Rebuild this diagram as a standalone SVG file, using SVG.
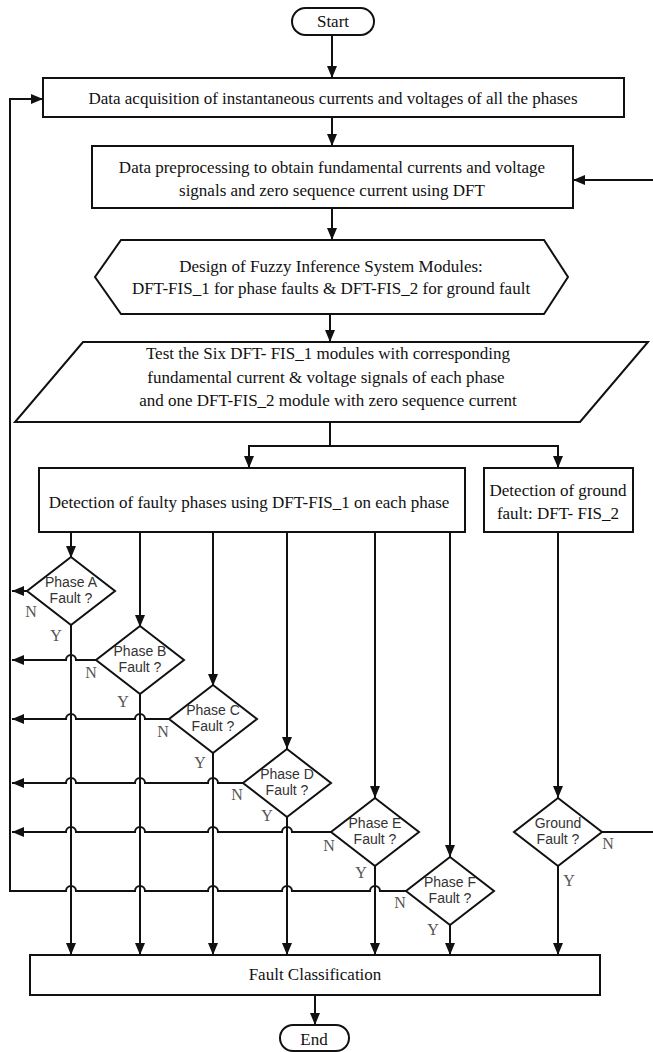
<svg xmlns="http://www.w3.org/2000/svg" width="653" height="1052" viewBox="0 0 653 1052">
<defs>
<style>
.box{fill:#fff;stroke:#111;stroke-width:2}
.c{fill:none;stroke:#111;stroke-width:2}
.t{font-family:"Liberation Serif","Times New Roman",serif;font-size:17px;fill:#111;text-anchor:middle}
.d{font-family:"Liberation Sans",Arial,sans-serif;font-size:14px;fill:#333;text-anchor:middle}
.yn{font-family:"Liberation Serif","Times New Roman",serif;font-size:16px;fill:#555;text-anchor:middle}
</style>
<marker id="ah" markerWidth="12" markerHeight="10" refX="12" refY="5" orient="auto" markerUnits="userSpaceOnUse">
<path d="M0,0 L12,5 L0,10 z" fill="#111"/>
</marker>
</defs>
<rect width="653" height="1052" fill="#fff"/>

<g id="connectors" class="c" marker-end="url(#ah)">
<path d="M332,35 V78"/>
<path d="M332,117 V146"/>
<path d="M332,208 V240"/>
<path d="M330,314 V342"/>
<path d="M330,422 V446 H249 V468"/>
<path d="M330,446 H558 V468"/>
<path d="M406,891 H380 A5,5 0 0 0 370,891 H292 A5,5 0 0 0 282,891 H218 A5,5 0 0 0 208,891 H145 A5,5 0 0 0 135,891 H76 A5,5 0 0 0 66,891 H10 V99 H43"/>
<path d="M602,832 H656 V180 H573"/>
<path d="M71,532 V558"/>
<path d="M140,532 V627"/>
<path d="M213,532 V686"/>
<path d="M287,532 V749"/>
<path d="M375,532 V798"/>
<path d="M450,532 V857"/>
<path d="M558,532 V798"/>
<path d="M71,625 V955"/>
<path d="M140,694 V955"/>
<path d="M213,753 V955"/>
<path d="M287,817 V955"/>
<path d="M375,866 V955"/>
<path d="M450,925 V955"/>
<path d="M558,866 V955"/>
<path d="M27,591 H12"/>
<path d="M96,660 H76 A5,5 0 0 0 66,660 H12"/>
<path d="M169,719 H145 A5,5 0 0 0 135,719 H76 A5,5 0 0 0 66,719 H12"/>
<path d="M243,783 H218 A5,5 0 0 0 208,783 H145 A5,5 0 0 0 135,783 H76 A5,5 0 0 0 66,783 H12"/>
<path d="M331,832 H292 A5,5 0 0 0 282,832 H218 A5,5 0 0 0 208,832 H145 A5,5 0 0 0 135,832 H76 A5,5 0 0 0 66,832 H12"/>
<path d="M315,995 V1025"/>
</g>

<g id="start"><rect class="box" x="292" y="8" width="82" height="27" rx="13.5"/><text class="t" x="333" y="27">Start</text></g>
<g id="acquisition"><rect class="box" x="43" y="78" width="581" height="39"/><text class="t" x="333" y="104">Data acquisition of instantaneous currents and voltages of all the phases</text></g>
<g id="preprocessing"><rect class="box" x="92" y="146" width="481" height="62"/><text class="t" x="332" y="173">Data preprocessing to obtain fundamental currents and voltage</text><text class="t" x="332" y="196">signals and zero sequence current using DFT</text></g>
<g id="design"><polygon class="box" points="121,240 544,240 568,277 544,314 121,314 95,277"/><text class="t" x="331" y="272">Design of Fuzzy Inference System Modules:</text><text class="t" x="331" y="294">DFT-FIS_1 for phase faults &amp; DFT-FIS_2 for ground fault</text></g>
<g id="test"><polygon class="box" points="83,342 648,342 580,422 15,422"/><text class="t" x="328" y="359">Test the Six DFT- FIS_1 modules with corresponding</text><text class="t" x="326" y="383">fundamental current &amp; voltage signals of each phase</text><text class="t" x="328" y="406">and one DFT-FIS_2 module with zero sequence current</text></g>
<g id="detect-phase"><rect class="box" x="39" y="468" width="426" height="64"/><text class="t" x="249" y="508">Detection of faulty phases using DFT-FIS_1 on each phase</text></g>
<g id="detect-ground"><rect class="box" x="484" y="468" width="149" height="64"/><text class="t" x="558" y="496">Detection of ground</text><text class="t" x="558" y="519">fault: DFT- FIS_2</text></g>

<g id="phaseA"><polygon class="box" points="71,557 115,591 71,625 27,591"/><text class="d" x="71" y="587">Phase A</text><text class="d" x="71" y="603">Fault ?</text><text class="yn" x="31" y="617">N</text><text class="yn" x="56" y="641">Y</text></g>
<g id="phaseB"><polygon class="box" points="140,626 184,660 140,694 96,660"/><text class="d" x="140" y="656">Phase B</text><text class="d" x="140" y="672">Fault ?</text><text class="yn" x="91" y="678">N</text><text class="yn" x="123" y="707">Y</text></g>
<g id="phaseC"><polygon class="box" points="213,685 257,719 213,753 169,719"/><text class="d" x="213" y="715">Phase C</text><text class="d" x="213" y="731">Fault ?</text><text class="yn" x="163" y="737">N</text><text class="yn" x="200" y="768">Y</text></g>
<g id="phaseD"><polygon class="box" points="287,749 331,783 287,817 243,783"/><text class="d" x="287" y="779">Phase D</text><text class="d" x="287" y="795">Fault ?</text><text class="yn" x="237" y="800">N</text><text class="yn" x="267" y="821">Y</text></g>
<g id="phaseE"><polygon class="box" points="375,798 419,832 375,866 331,832"/><text class="d" x="375" y="828">Phase E</text><text class="d" x="375" y="844">Fault ?</text><text class="yn" x="329" y="851">N</text><text class="yn" x="361" y="878">Y</text></g>
<g id="phaseF"><polygon class="box" points="450,857 494,891 450,925 406,891"/><text class="d" x="450" y="887">Phase F</text><text class="d" x="450" y="903">Fault ?</text><text class="yn" x="400" y="908">N</text><text class="yn" x="433" y="935">Y</text></g>
<g id="ground"><polygon class="box" points="558,798 602,832 558,866 514,832"/><text class="d" x="558" y="828">Ground</text><text class="d" x="558" y="844">Fault ?</text><text class="yn" x="608" y="849">N</text><text class="yn" x="569" y="886">Y</text></g>

<g id="classification"><rect class="box" x="30" y="955" width="570" height="40"/><text class="t" x="315" y="980">Fault Classification</text></g>
<g id="end"><rect class="box" x="280" y="1025" width="69" height="26" rx="13"/><text class="t" x="314" y="1045">End</text></g>
</svg>
